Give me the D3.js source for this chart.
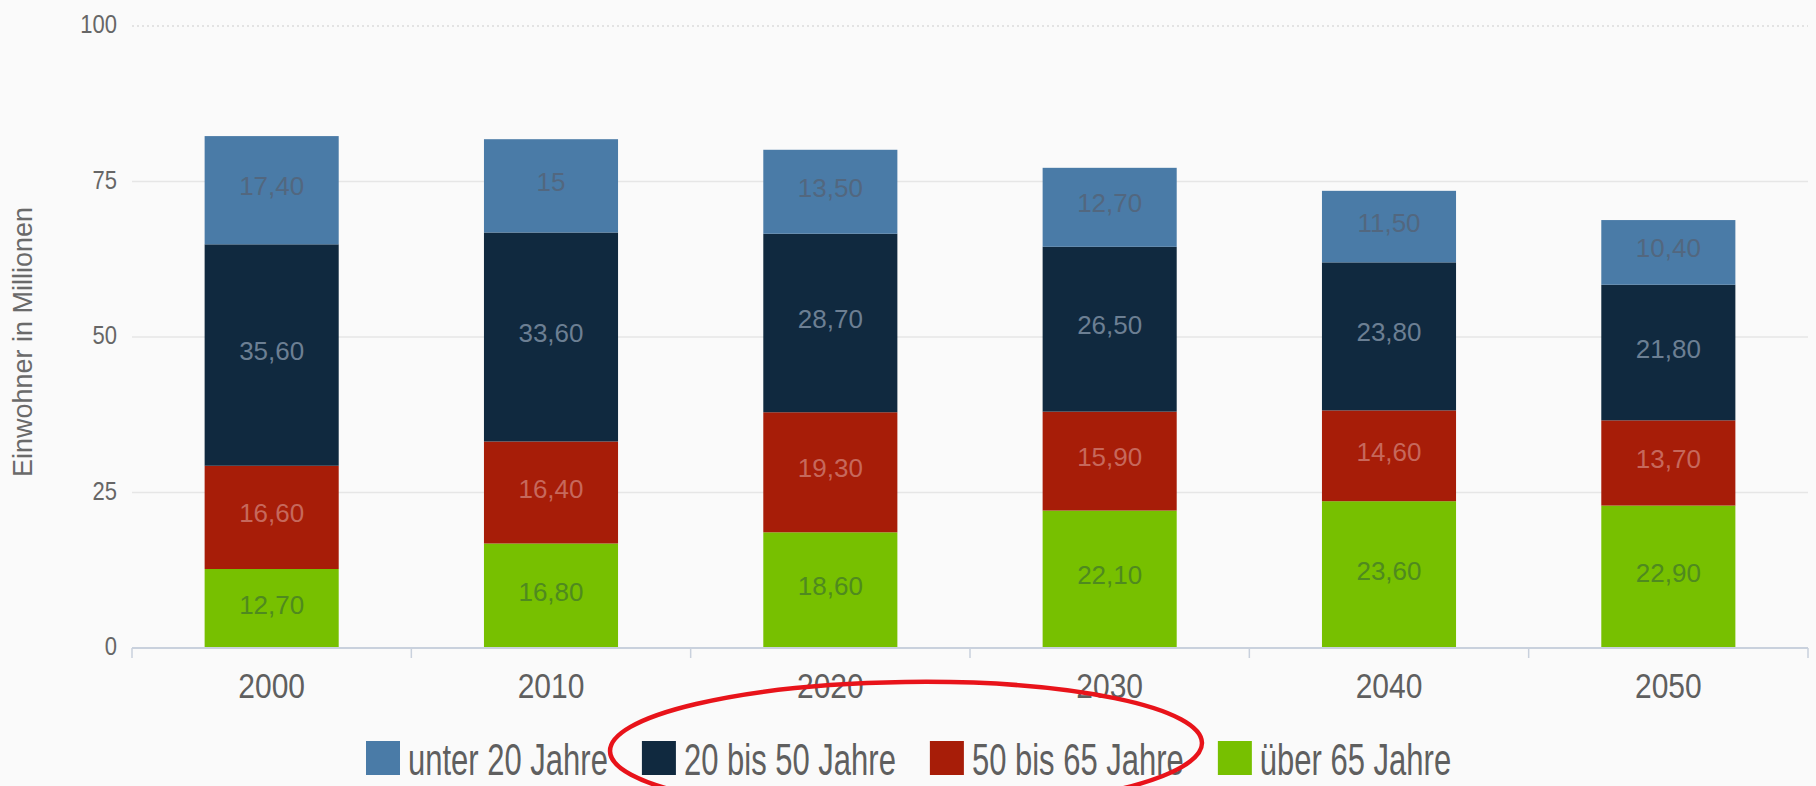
<!DOCTYPE html>
<html>
<head>
<meta charset="utf-8">
<script src="https://cdn.jsdelivr.net/npm/d3@7"></script>
<style>
  html, body { margin: 0; padding: 0; background: #fafafa; }
  svg { display: block; font-family: "Liberation Sans", Arial, sans-serif; }
</style>
</head>
<body>
<div id="chart"></div>
<script>
const years = ["2000", "2010", "2020", "2030", "2040", "2050"];
const seriesNames = ["unter 20 Jahre", "20 bis 50 Jahre", "50 bis 65 Jahre", "über 65 Jahre"];
const unter20 = [17.4, 15, 13.5, 12.7, 11.5, 10.4];
const von20bis50 = [35.6, 33.6, 28.7, 26.5, 23.8, 21.8];
const von50bis65 = [16.6, 16.4, 19.3, 15.9, 14.6, 13.7];
const ueber65 = [12.7, 16.8, 18.6, 22.1, 23.6, 22.9];
const yTicks = [0, 25, 50, 75, 100];

const colors = ["#4a7ba7", "#10293f", "#a71d08", "#77c000"];
const labelColors = ["#52677f", "#6c7f93", "#c6685c", "#4f8a1f"];

const width = 1816, height = 786;

// table for d3.stack, one row per year
const table = years.map((y, i) => ({
  year: y,
  [seriesNames[0]]: unter20[i],
  [seriesNames[1]]: von20bis50[i],
  [seriesNames[2]]: von50bis65[i],
  [seriesNames[3]]: ueber65[i],
}));

// bottom to top: über 65 first
const stackKeys = seriesNames.slice().reverse();
const stacked = d3.stack().keys(stackKeys)(table);

const svg = d3.select("#chart").append("svg")
  .attr("width", width)
  .attr("height", height);

svg.append("rect").attr("width", width).attr("height", height).attr("fill", "#fafafa");

const x = d3.scaleBand()
  .domain(years)
  .range([132, 1808])
  .paddingInner(0.52)
  .paddingOuter(0.26);

const y = d3.scaleLinear().domain([0, 100]).range([648, 26]);

// gridlines
svg.append("g")
  .selectAll("line")
  .data(yTicks.filter((d) => d > 0))
  .join("line")
  .attr("x1", 132)
  .attr("x2", 1808)
  .attr("y1", (d) => y(d))
  .attr("y2", (d) => y(d))
  .attr("stroke", (d) => (d === 100 ? "#dcdcdc" : "#e6e6e6"))
  .attr("stroke-width", 1.6)
  .attr("stroke-dasharray", (d) => (d === 100 ? "2,3" : null));

// y tick labels (text is a bit taller than wide in the reference)
svg.append("g")
  .selectAll("text")
  .data(yTicks)
  .join("text")
  .attr("transform", (d) => `translate(117, ${y(d) - 2}) scale(1, 1.15)`)
  .attr("y", 22 * 0.36)
  .attr("text-anchor", "end")
  .attr("font-size", "22px")
  .attr("fill", "#666")
  .text((d) => d);

// y axis title
svg.append("text")
  .attr("transform", "translate(32, 342) rotate(-90)")
  .attr("text-anchor", "middle")
  .attr("font-size", "27px")
  .attr("fill", "#6a6a6a")
  .text("Einwohner in Millionen");

// bars
const layers = svg.append("g")
  .selectAll("g")
  .data(stacked)
  .join("g")
  .attr("fill", (d) => colors[seriesNames.indexOf(d.key)]);

layers.selectAll("rect")
  .data((d) => d)
  .join("rect")
  .attr("x", (d) => x(d.data.year))
  .attr("width", x.bandwidth())
  .attr("y", (d) => y(d[1]))
  .attr("height", (d) => y(d[0]) - y(d[1]));

// value labels
const fmt = (v) => (Number.isInteger(v) ? String(v) : v.toFixed(2).replace(".", ","));

layers.each(function (layer) {
  const idx = seriesNames.indexOf(layer.key);
  d3.select(this)
    .selectAll("text")
    .data(layer)
    .join("text")
    .attr("x", (d) => x(d.data.year) + x.bandwidth() / 2)
    .attr("y", (d) => (y(d[0]) + y(d[1])) / 2 + 5)
    .attr("text-anchor", "middle")
    .attr("font-size", "26px")
    .attr("fill", labelColors[idx])
    .text((d) => fmt(d.data[layer.key]));
});

// x axis line and ticks at category boundaries
svg.append("line")
  .attr("x1", 132).attr("x2", 1808)
  .attr("y1", y(0)).attr("y2", y(0))
  .attr("stroke", "#c9d1dd")
  .attr("stroke-width", 2);

svg.append("g")
  .selectAll("line")
  .data(d3.range(years.length + 1))
  .join("line")
  .attr("x1", (i) => 132 + i * x.step())
  .attr("x2", (i) => 132 + i * x.step())
  .attr("y1", y(0))
  .attr("y2", y(0) + 10)
  .attr("stroke", "#c9d1dd")
  .attr("stroke-width", 1.5);

svg.append("g")
  .selectAll("text")
  .data(years)
  .join("text")
  .attr("transform", (d) => `translate(${x(d) + x.bandwidth() / 2}, 698) scale(1, 1.16)`)
  .attr("text-anchor", "middle")
  .attr("font-size", "30px")
  .attr("fill", "#5f5f5f")
  .text((d) => d);

// legend
const legend = svg.append("g");
let lx = 366;
seriesNames.forEach((name, i) => {
  legend.append("rect")
    .attr("x", lx)
    .attr("y", 741)
    .attr("width", 34)
    .attr("height", 34)
    .attr("fill", colors[i]);
  const t = legend.append("text")
    .attr("transform", `translate(${lx + 42}, 775) scale(1, 1.45)`)
    .attr("font-size", "31px")
    .attr("fill", "#5f5f5f")
    .text(name);
  lx += 42 + t.node().getComputedTextLength() + 34;
});

// hand-drawn red marker round two legend entries
svg.append("ellipse")
  .attr("cx", 906)
  .attr("cy", 747)
  .attr("rx", 296)
  .attr("ry", 65)
  .attr("transform", "rotate(-0.8, 906, 747)")
  .attr("fill", "none")
  .attr("stroke", "#e8131a")
  .attr("stroke-width", 4.5);
</script>
</body>
</html>
